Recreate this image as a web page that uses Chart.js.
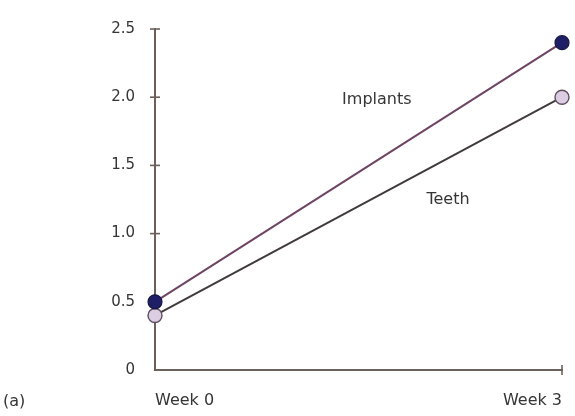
<!DOCTYPE html>
<html>
<head>
<meta charset="utf-8">
<script src="https://cdn.jsdelivr.net/npm/chart.js@4/dist/chart.umd.min.js"></script>
<style>
  html, body { margin: 0; padding: 0; background: #fff; }
  #wrap { width: 575px; height: 416px; }
</style>
</head>
<body>
<div id="wrap"><canvas id="c"></canvas></div>
<script>
// Time points and mean values for each group
const weeks = ['Week 0', 'Week 3'];
const implants = [0.5, 2.4];
const teeth = [0.4, 2.0];
const yTicks = [0, 0.5, 1.0, 1.5, 2.0, 2.5];

// In-plot series labels, positioned in data units (x = category index, y = value)
const seriesLabels = [
  { text: 'Implants', x: 0.545, y: 1.98 },
  { text: 'Teeth', x: 0.72, y: 1.25 }
];
const panelLabel = '(a)';

const FONT = '"DejaVu Sans", "Liberation Sans", sans-serif';
const TEXT = '#353535';
const AXIS = '#6c605b';

// Short tick marks that cross the axis lines, plus text labels
const decorations = {
  id: 'decorations',
  beforeDatasetsDraw(chart) {
    const { ctx, scales: { x, y } } = chart;
    ctx.save();
    ctx.strokeStyle = AXIS;
    ctx.lineWidth = 1.6;
    const x0 = x.getPixelForValue(0);
    yTicks.forEach(v => {
      if (v === 0) return;
      const py = y.getPixelForValue(v);
      ctx.beginPath();
      ctx.moveTo(x0 - 5, py);
      ctx.lineTo(x0 + 5, py);
      ctx.stroke();
    });
    const y0 = y.getPixelForValue(0);
    const px = x.getPixelForValue(weeks.length - 1);
    ctx.beginPath();
    ctx.moveTo(px, y0 - 5);
    ctx.lineTo(px, y0 + 5);
    ctx.stroke();
    ctx.restore();
  },
  afterDatasetsDraw(chart) {
    const { ctx, scales: { x, y } } = chart;
    ctx.save();
    ctx.fillStyle = TEXT;
    ctx.font = '16px ' + FONT;
    ctx.textAlign = 'center';
    ctx.textBaseline = 'middle';
    seriesLabels.forEach(l => {
      ctx.fillText(l.text, x.getPixelForValue(l.x), y.getPixelForValue(l.y));
    });
    ctx.textAlign = 'left';
    ctx.fillText(panelLabel, 3, 402);
    ctx.restore();
  }
};

new Chart(document.getElementById('c'), {
  type: 'line',
  data: {
    labels: weeks,
    datasets: [
      {
        label: 'Implants',
        data: implants,
        borderColor: '#6e4463',
        borderWidth: 2,
        pointRadius: 7,
        pointBackgroundColor: '#1f1f68',
        pointBorderColor: '#17173f',
        pointBorderWidth: 1.2,
        tension: 0
      },
      {
        label: 'Teeth',
        data: teeth,
        borderColor: '#413a3c',
        borderWidth: 2,
        pointRadius: 7,
        pointBackgroundColor: '#dccde3',
        pointBorderColor: '#5e4d5e',
        pointBorderWidth: 1.4,
        tension: 0
      }
    ]
  },
  options: {
    responsive: true,
    maintainAspectRatio: false,
    animation: false,
    clip: false,
    layout: { padding: { top: 27, right: 13, left: 0, bottom: 0 } },
    plugins: {
      legend: { display: false },
      tooltip: { enabled: false },
      title: { display: false }
    },
    scales: {
      x: {
        type: 'category',
        offset: false,
        grid: {
          display: true,
          drawOnChartArea: false,
          drawTicks: true,
          tickLength: 18,
          tickColor: 'rgba(0,0,0,0)'
        },
        border: { display: true, color: AXIS, width: 2 },
        ticks: {
          align: 'inner',
          padding: 3,
          maxRotation: 0,
          color: TEXT,
          font: { family: FONT, size: 16 }
        },
        afterFit(scale) { scale.height = 46; }
      },
      y: {
        min: 0,
        max: 2.5,
        grid: { display: true, drawOnChartArea: false, drawTicks: false },
        border: { display: true, color: AXIS, width: 2 },
        ticks: {
          stepSize: 0.5,
          padding: 20,
          color: TEXT,
          font: { family: FONT, size: 15 },
          callback: v => (v === 0 ? '0' : v.toFixed(1))
        },
        afterFit(scale) { scale.width = 155; }
      }
    }
  },
  plugins: [decorations]
});
</script>
</body>
</html>
